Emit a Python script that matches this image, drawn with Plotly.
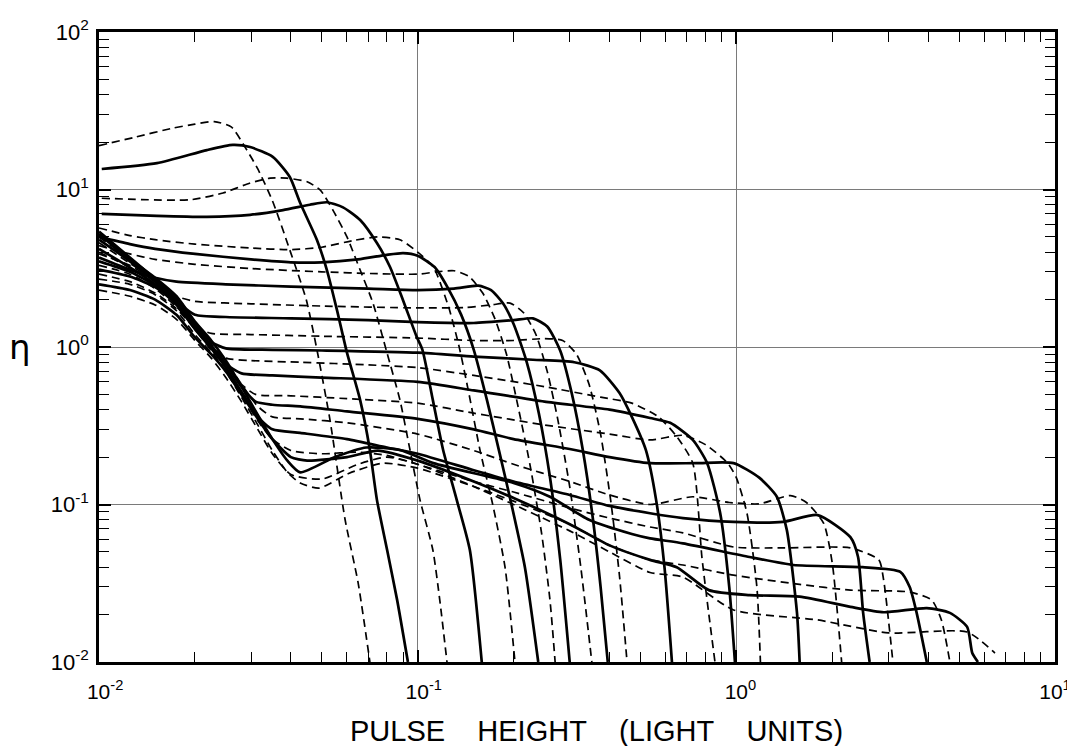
import plotly.graph_objects as go

# ---- curve data (pulse height in light units, eta) ----
c01_x = [0.01, 0.013, 0.017, 0.02, 0.023, 0.026, 0.0291, 0.0315, 0.035, 0.0397, 0.0447, 0.0483, 0.053, 0.0592, 0.065, 0.0708]
c01_y = [19, 21.5, 24.5, 26, 27, 25, 17.8, 13.5, 8.5, 4.13, 2.0, 0.96, 0.35, 0.08, 0.032, 0.01]

c02_x = [0.0102, 0.0152, 0.0218, 0.0263, 0.0298, 0.0351, 0.0397, 0.0428, 0.0483, 0.0519, 0.0558, 0.06, 0.066, 0.0708, 0.0745, 0.0802, 0.0862, 0.0932]
c02_y = [13.5, 14.7, 17.8, 19.2, 18.6, 16.1, 12.0, 8.2, 4.78, 3.08, 1.72, 0.92, 0.46, 0.222, 0.107, 0.0514, 0.0248, 0.01]

c03_x = [0.0102, 0.0193, 0.0245, 0.0298, 0.0344, 0.0389, 0.045, 0.0495, 0.0542, 0.06, 0.066, 0.0724, 0.0801, 0.088, 0.0946, 0.1017, 0.1116, 0.1173, 0.1236]
c03_y = [8.8, 8.6, 9.5, 11.0, 11.8, 11.8, 11.2, 9.9, 7.4, 5.0, 3.08, 1.9, 0.92, 0.46, 0.222, 0.107, 0.0514, 0.0248, 0.01]

c04_x = [0.0102, 0.0152, 0.0218, 0.0298, 0.0378, 0.0459, 0.0519, 0.0583, 0.066, 0.0745, 0.0819, 0.0899, 0.0993, 0.1035, 0.1116, 0.1202, 0.1326, 0.1458, 0.1589]
c04_y = [7.0, 6.8, 6.7, 6.9, 7.4, 8.0, 8.3, 7.7, 6.4, 4.57, 3.22, 1.99, 1.16, 0.96, 0.46, 0.222, 0.107, 0.0514, 0.01]

c05_x = [0.01, 0.0125, 0.015, 0.02, 0.03, 0.04, 0.05, 0.063, 0.075, 0.088, 0.1, 0.112, 0.125, 0.135, 0.145, 0.157, 0.172, 0.188, 0.202]
c05_y = [5.7, 5.1, 4.8, 4.5, 4.25, 4.15, 4.3, 4.75, 5.0, 4.8, 4.0, 3.22, 1.8, 1.0, 0.5, 0.22, 0.1, 0.04, 0.01]

c06_x = [0.01, 0.0125, 0.015, 0.02, 0.03, 0.04, 0.05, 0.065, 0.08, 0.09, 0.1, 0.113, 0.124, 0.137, 0.15, 0.165, 0.18, 0.197, 0.217, 0.239]
c06_y = [5.0, 4.5, 4.2, 3.9, 3.6, 3.45, 3.45, 3.6, 3.85, 3.95, 3.8, 3.22, 2.4, 1.6, 0.96, 0.46, 0.22, 0.1, 0.04, 0.01]

c07_x = [0.01, 0.0125, 0.015, 0.02, 0.03, 0.05, 0.075, 0.1, 0.115, 0.13, 0.145, 0.16, 0.175, 0.19, 0.205, 0.225, 0.245, 0.26, 0.27]
c07_y = [4.4, 3.9, 3.6, 3.35, 3.15, 3.0, 2.92, 2.9, 3.0, 3.05, 2.8, 2.2, 1.5, 0.9, 0.45, 0.18, 0.065, 0.025, 0.01]

c08_x = [0.01, 0.0125, 0.015, 0.0175, 0.025, 0.04, 0.07, 0.1, 0.13, 0.155, 0.17, 0.185, 0.2, 0.22, 0.24, 0.26, 0.28, 0.30]
c08_y = [3.7, 3.1, 2.75, 2.6, 2.5, 2.42, 2.35, 2.3, 2.35, 2.45, 2.3, 1.9, 1.4, 0.8, 0.38, 0.15, 0.045, 0.01]

c09_x = [0.01, 0.0125, 0.015, 0.0175, 0.02, 0.03, 0.05, 0.1, 0.14, 0.17, 0.195, 0.215, 0.235, 0.255, 0.275, 0.3, 0.325, 0.352]
c09_y = [5.0, 3.6, 2.6, 2.1, 1.95, 1.88, 1.82, 1.77, 1.78, 1.85, 1.9, 1.65, 1.2, 0.7, 0.35, 0.13, 0.04, 0.01]

c10_x = [0.01, 0.0125, 0.015, 0.0175, 0.02, 0.025, 0.04, 0.07, 0.1, 0.15, 0.2, 0.23, 0.255, 0.28, 0.305, 0.33, 0.355, 0.375, 0.395]
c10_y = [4.2, 3.2, 2.5, 1.95, 1.6, 1.55, 1.52, 1.48, 1.44, 1.42, 1.48, 1.52, 1.35, 0.95, 0.5, 0.22, 0.08, 0.03, 0.01]

c11_x = [0.01, 0.0125, 0.015, 0.0175, 0.02, 0.0225, 0.03, 0.05, 0.1, 0.15, 0.2, 0.25, 0.285, 0.315, 0.345, 0.375, 0.405, 0.43, 0.454]
c11_y = [3.3, 2.9, 2.35, 1.8, 1.35, 1.22, 1.2, 1.17, 1.14, 1.1, 1.1, 1.13, 1.1, 0.9, 0.58, 0.28, 0.1, 0.035, 0.01]

c12_x = [0.01, 0.0125, 0.015, 0.0175, 0.02, 0.0225, 0.025, 0.035, 0.05, 0.1, 0.15, 0.23, 0.31, 0.373, 0.43, 0.47, 0.52, 0.56, 0.595, 0.628]
c12_y = [4.8, 3.5, 2.6, 2.0, 1.4, 1.08, 0.98, 0.96, 0.95, 0.92, 0.87, 0.83, 0.80, 0.71, 0.51, 0.36, 0.222, 0.107, 0.04, 0.01]

c13_x = [0.01, 0.0125, 0.015, 0.0175, 0.02, 0.0225, 0.025, 0.03, 0.043, 0.07, 0.1, 0.15, 0.25, 0.375, 0.47, 0.57, 0.65, 0.73, 0.78, 0.82, 0.857]
c13_y = [2.9, 2.6, 2.2, 1.75, 1.3, 1.0, 0.85, 0.82, 0.8, 0.77, 0.74, 0.66, 0.56, 0.48, 0.44, 0.36, 0.27, 0.183, 0.046, 0.02, 0.01]

c14_x = [0.01, 0.0125, 0.015, 0.0175, 0.02, 0.0225, 0.025, 0.028, 0.035, 0.05, 0.1, 0.15, 0.25, 0.4, 0.536, 0.62, 0.73, 0.81, 0.89, 0.95, 0.99]
c14_y = [5.4, 3.7, 2.7, 2.05, 1.4, 1.0, 0.78, 0.68, 0.66, 0.64, 0.6, 0.53, 0.45, 0.40, 0.354, 0.33, 0.257, 0.183, 0.088, 0.03, 0.01]

c15_x = [0.01, 0.0125, 0.015, 0.0175, 0.02, 0.0225, 0.025, 0.028, 0.031, 0.04, 0.06, 0.1, 0.15, 0.25, 0.4, 0.536, 0.68, 0.8, 0.94, 1.0, 1.08, 1.16, 1.19]
c15_y = [3.9, 3.3, 2.6, 2.0, 1.4, 1.05, 0.8, 0.58, 0.5, 0.49, 0.47, 0.44, 0.38, 0.32, 0.28, 0.257, 0.275, 0.24, 0.183, 0.148, 0.088, 0.03, 0.01]

c16_x = [0.01, 0.0125, 0.015, 0.0175, 0.02, 0.0225, 0.025, 0.028, 0.031, 0.035, 0.0428, 0.06, 0.1, 0.15, 0.2, 0.3, 0.4, 0.536, 0.75, 0.98, 1.18, 1.34, 1.44, 1.55, 1.58]
c16_y = [3.1, 2.8, 2.4, 1.9, 1.35, 1.02, 0.78, 0.56, 0.45, 0.43, 0.42, 0.39, 0.35, 0.3, 0.26, 0.225, 0.2, 0.183, 0.183, 0.183, 0.148, 0.112, 0.069, 0.0205, 0.01]

c17_x = [0.01, 0.0125, 0.015, 0.0175, 0.02, 0.0225, 0.025, 0.028, 0.0315, 0.035, 0.0428, 0.06, 0.1, 0.15, 0.2, 0.3, 0.4, 0.536, 0.73, 0.95, 1.18, 1.48, 1.66, 1.88, 2.0, 2.14]
c17_y = [4.6, 3.4, 2.7, 2.1, 1.45, 1.1, 0.82, 0.58, 0.42, 0.36, 0.35, 0.33, 0.28, 0.22, 0.18, 0.14, 0.115, 0.1, 0.112, 0.103, 0.101, 0.114, 0.103, 0.076, 0.0425, 0.01]

c18_x = [0.01, 0.0125, 0.015, 0.0175, 0.02, 0.0225, 0.025, 0.028, 0.0315, 0.035, 0.0428, 0.06, 0.08, 0.1, 0.15, 0.2, 0.3, 0.4, 0.536, 0.68, 0.98, 1.4, 1.8, 2.28, 2.41, 2.5, 2.62]
c18_y = [3.5, 3.0, 2.45, 1.85, 1.3, 0.98, 0.74, 0.52, 0.36, 0.3, 0.285, 0.26, 0.23, 0.21, 0.165, 0.14, 0.115, 0.098, 0.088, 0.082, 0.0775, 0.0775, 0.0857, 0.062, 0.0464, 0.0205, 0.01]

c19_x = [0.01, 0.0125, 0.015, 0.0175, 0.02, 0.0225, 0.025, 0.028, 0.0315, 0.035, 0.04, 0.05, 0.065, 0.08, 0.1, 0.15, 0.2, 0.3, 0.4, 0.536, 0.68, 0.98, 1.4, 2.28, 2.8, 2.9, 3.1]
c19_y = [2.7, 2.5, 2.15, 1.7, 1.2, 0.92, 0.7, 0.5, 0.34, 0.26, 0.22, 0.21, 0.215, 0.205, 0.18, 0.14, 0.12, 0.095, 0.082, 0.072, 0.066, 0.0537, 0.053, 0.053, 0.0445, 0.033, 0.01]

c20_x = [0.01, 0.0125, 0.015, 0.0175, 0.02, 0.0225, 0.025, 0.028, 0.0315, 0.035, 0.039, 0.0428, 0.055, 0.069, 0.088, 0.112, 0.2, 0.26, 0.345, 0.47, 0.536, 0.68, 1.1, 1.51, 2.49, 3.27, 3.5, 3.68, 3.96]
c20_y = [5.2, 3.6, 2.75, 2.1, 1.45, 1.1, 0.82, 0.56, 0.37, 0.26, 0.19, 0.16, 0.2, 0.23, 0.222, 0.183, 0.137, 0.112, 0.08, 0.065, 0.061, 0.0567, 0.0464, 0.0413, 0.040, 0.0374, 0.0299, 0.0205, 0.01]

c21_x = [0.01, 0.0125, 0.015, 0.0175, 0.02, 0.0225, 0.025, 0.028, 0.0315, 0.035, 0.039, 0.0428, 0.049, 0.061, 0.078, 0.1, 0.15, 0.2, 0.3, 0.4, 0.536, 0.68, 0.98, 1.58, 2.28, 3.5, 4.1, 4.4, 4.68]
c21_y = [4.0, 3.2, 2.5, 1.9, 1.3, 0.95, 0.7, 0.48, 0.32, 0.22, 0.16, 0.137, 0.127, 0.158, 0.183, 0.17, 0.13, 0.105, 0.075, 0.055, 0.0445, 0.0413, 0.0356, 0.0311, 0.0286, 0.0278, 0.0248, 0.0185, 0.01]

c22_x = [0.01, 0.0125, 0.015, 0.0175, 0.02, 0.0225, 0.025, 0.028, 0.0315, 0.035, 0.04, 0.045, 0.06, 0.075, 0.1, 0.15, 0.2, 0.3, 0.4, 0.536, 0.65, 0.82, 1.1, 1.58, 2.28, 2.9, 3.96, 4.68, 5.3, 5.5, 5.73]
c22_y = [2.5, 2.3, 2.0, 1.6, 1.15, 0.9, 0.7, 0.5, 0.35, 0.26, 0.2, 0.19, 0.2, 0.22, 0.19, 0.14, 0.11, 0.075, 0.055, 0.0445, 0.04, 0.0286, 0.0266, 0.026, 0.0224, 0.0207, 0.022, 0.0205, 0.0167, 0.0114, 0.01]

c23_x = [0.01, 0.0125, 0.015, 0.0175, 0.02, 0.0225, 0.025, 0.028, 0.0315, 0.035, 0.04, 0.05, 0.065, 0.08, 0.1, 0.15, 0.2, 0.3, 0.4, 0.536, 0.68, 0.98, 1.8, 3.0, 5.3, 6.48]
c23_y = [2.3, 2.1, 1.85, 1.5, 1.1, 0.85, 0.64, 0.45, 0.3, 0.21, 0.155, 0.145, 0.18, 0.2, 0.18, 0.13, 0.1, 0.068, 0.05, 0.037, 0.0346, 0.0214, 0.0185, 0.0153, 0.0155, 0.0114]

# dashed (odd-numbered) and solid (even-numbered) curves alternate
curves = [
    (c01_x, c01_y, "dash"), (c02_x, c02_y, "solid"), (c03_x, c03_y, "dash"),
    (c04_x, c04_y, "solid"), (c05_x, c05_y, "dash"), (c06_x, c06_y, "solid"),
    (c07_x, c07_y, "dash"), (c08_x, c08_y, "solid"), (c09_x, c09_y, "dash"),
    (c10_x, c10_y, "solid"), (c11_x, c11_y, "dash"), (c12_x, c12_y, "solid"),
    (c13_x, c13_y, "dash"), (c14_x, c14_y, "solid"), (c15_x, c15_y, "dash"),
    (c16_x, c16_y, "solid"), (c17_x, c17_y, "dash"), (c18_x, c18_y, "solid"),
    (c19_x, c19_y, "dash"), (c20_x, c20_y, "solid"), (c21_x, c21_y, "dash"),
    (c22_x, c22_y, "solid"), (c23_x, c23_y, "dash"),
]

x_tickvals = [0.01, 0.1, 1, 10]
# leading superscript-size spaces keep the "10" itself centred on its tick
# (the last label stays centred as a whole so it fits inside the page)
x_ticktext = ["<sup>&nbsp;&nbsp;&nbsp;</sup>10<sup>-2</sup>", "<sup>&nbsp;&nbsp;&nbsp;</sup>10<sup>-1</sup>",
              "<sup>&nbsp;&nbsp;</sup>10<sup>0</sup>", "10<sup>1</sup>"]
y_tickvals = [0.01, 0.1, 1, 10, 100]
y_ticktext = ["10<sup>-2</sup>", "10<sup>-1</sup>", "10<sup>0</sup>", "10<sup>1</sup>", "10<sup>2</sup>"]
minor_digits = [2, 3, 4, 5, 6, 7, 8, 9]

fig = go.Figure()
for cx, cy, style in curves:
    if style == "solid":
        line = dict(color="black", width=2.7, shape="spline", smoothing=0.6)
    else:
        line = dict(color="black", width=1.7, dash="8px,5px", shape="spline", smoothing=0.6)
    fig.add_trace(go.Scatter(x=cx, y=cy, mode="lines", line=line,
                             showlegend=False, hoverinfo="skip"))

x_minor = [d * 10.0 ** e for e in (-2, -1, 0) for d in minor_digits]
y_minor = [d * 10.0 ** e for e in (-2, -1, 0, 1) for d in minor_digits]

font = dict(family="Liberation Sans, Arial, sans-serif", size=22, color="black")
xfont = dict(family="Liberation Sans, Arial, sans-serif", size=21, color="black")

# the page body adds an 8 px offset, so the figure is 8 px smaller than the window
fig.update_layout(
    width=1067, height=738,
    margin=dict(l=91, r=20, t=24, b=84, autoexpand=False),
    paper_bgcolor="white", plot_bgcolor="white",
    font=font,
    xaxis=dict(
        type="log", range=[-2, 1], automargin=False,
        tickmode="array", tickvals=x_tickvals, ticktext=x_ticktext,
        ticks="inside", ticklen=12, tickwidth=1.5, tickcolor="black",
        showline=True, linewidth=2.5, linecolor="black", mirror="ticks",
        showgrid=True, gridcolor="#7a7a7a", gridwidth=1,
        zeroline=False, tickfont=xfont, ticklabelstandoff=9,
        minor=dict(tickmode="array", tickvals=x_minor, ticks="inside",
                   ticklen=10, tickwidth=1.3, tickcolor="black", showgrid=False),
    ),
    yaxis=dict(
        type="log", range=[-2, 2], automargin=False,
        tickmode="array", tickvals=y_tickvals, ticktext=y_ticktext,
        ticks="inside", ticklen=12, tickwidth=1.5, tickcolor="black",
        showline=True, linewidth=2.5, linecolor="black", mirror="ticks",
        showgrid=True, gridcolor="#7a7a7a", gridwidth=1,
        zeroline=False, tickfont=font, ticklabelstandoff=3,
        minor=dict(tickmode="array", tickvals=y_minor, ticks="inside",
                   ticklen=10, tickwidth=1.3, tickcolor="black", showgrid=False),
    ),
    annotations=[
        dict(text="η", x=-0.083, y=0.50, xref="paper", yref="paper",
             xanchor="center", yanchor="middle", showarrow=False,
             font=dict(family="DejaVu Sans, sans-serif", size=34, color="black")),
        dict(text="PULSE&nbsp;&nbsp;&nbsp;&nbsp;HEIGHT&nbsp;&nbsp;&nbsp;&nbsp;(LIGHT&nbsp;&nbsp;&nbsp;&nbsp;UNITS)",
             x=0.52, y=-0.1095, xref="paper", yref="paper",
             xanchor="center", yanchor="middle", showarrow=False,
             font=dict(family="Liberation Sans, Arial, sans-serif", size=29, color="black")),
    ],
)

fig.write_html("out.html")
